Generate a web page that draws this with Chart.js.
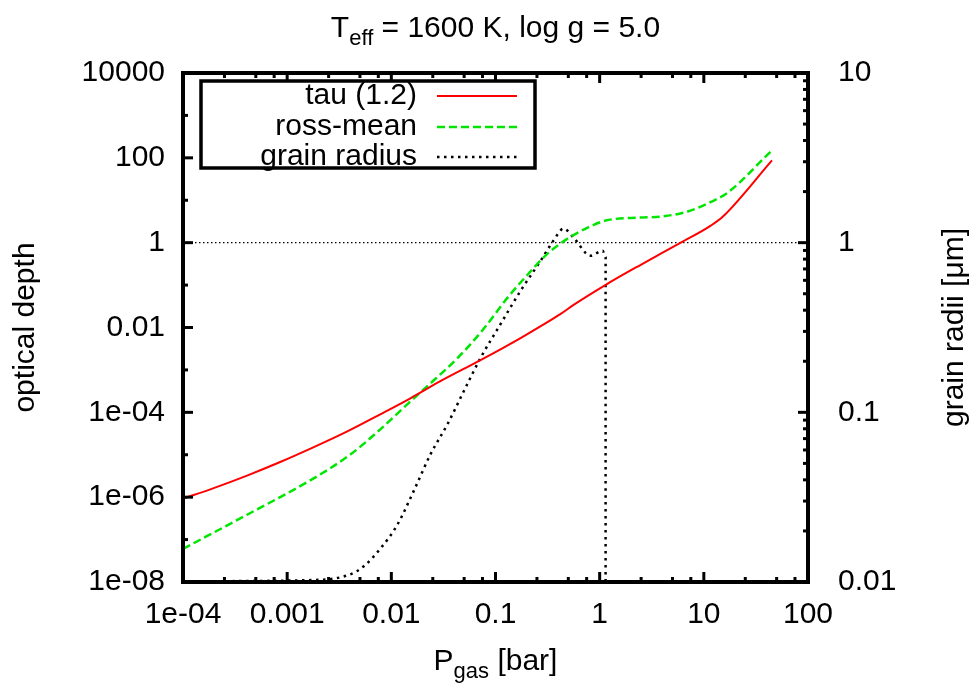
<!DOCTYPE html>
<html><head><meta charset="utf-8">
<script src="https://cdn.jsdelivr.net/npm/chart.js@4.4.1/dist/chart.umd.min.js"></script>
<style>html,body{margin:0;padding:0;background:#fff;}canvas{display:block;}</style>
</head><body>
<canvas id="c" width="971" height="684"></canvas>
<script>
// ---- data ----
const tauPressure = [1e-4, 2.03e-4, 4.12e-4, 8.57e-4, 1.78e-3, 3.78e-3, 7.83e-3, 0.01524, 0.0296, 0.0718, 0.174, 0.422, 0.562, 1.143, 2.48, 6.01, 11.67, 15.24, 45.1];
const tauValues   = [9.2e-7, 1.68e-6, 3.23e-6, 6.73e-6, 1.49e-5, 3.55e-5, 8.97e-5, 2.14e-4, 5.42e-4, 1.70e-3, 5.64e-3, 0.0209, 0.0341, 0.1014, 0.301, 1.0, 2.52, 4.12, 87.3];

const rossPressure = [1e-4, 4.12e-4, 1.78e-3, 4.04e-3, 7.83e-3, 0.01456, 0.0227, 0.0432, 0.0767, 0.130, 0.203, 0.316, 0.492, 0.767, 1.143, 2.48, 3.86, 7.01, 12.5, 17.0, 45.1];
const rossValues   = [6.04e-8, 3.85e-7, 2.74e-6, 1.01e-5, 3.96e-5, 1.63e-4, 4.36e-4, 1.90e-3, 9.2e-3, 0.0499, 0.175, 0.55, 1.245, 2.26, 3.32, 3.91, 4.12, 5.42, 9.86, 15.2, 150.7];

const grainPressure = [1e-4, 2.07e-3, 4.04e-3, 5.37e-3, 7.83e-3, 0.0114, 0.0163, 0.0237, 0.0345, 0.0537, 0.0718, 0.112, 0.174, 0.271, 0.361, 0.451, 0.562, 0.818, 1.07, 1.14, 1.14];
const grainRadius   = [0.0101, 0.0103, 0.0111, 0.0123, 0.0157, 0.0217, 0.0341, 0.0564, 0.0849, 0.147, 0.209, 0.332, 0.520, 0.782, 1.03, 1.21, 1.07, 0.838, 0.897, 0.815, 0.0101];

const refLinePressure = [1e-4, 100];
const refLineValue    = [1, 1];

const seriesLabels = ['tau (1.2)', 'ross-mean', 'grain radius'];

const xTickValues  = [1e-4, 1e-3, 1e-2, 1e-1, 1, 10, 100];
const xTickLabels  = ['1e-04', '0.001', '0.01', '0.1', '1', '10', '100'];
const yTickValues  = [1e-8, 1e-6, 1e-4, 1e-2, 1, 100, 10000];
const yTickLabels  = ['1e-08', '1e-06', '1e-04', '0.01', '1', '100', '10000'];
const y2TickValues = [0.01, 0.1, 1, 10];
const y2TickLabels = ['0.01', '0.1', '1', '10'];

// ---- styling ----
const FONT = '"Liberation Sans", Arial, Helvetica, sans-serif';
const FS = 30;
const SUBFS = 22;
const RED = '#ff0000', GREEN = '#00e600', BLACK = '#000000';

function pts(xs, ys) { return xs.map((x, i) => ({ x: x, y: ys[i] })); }

const decor = {
  id: 'decor',
  afterDraw(chart) {
    const ctx = chart.ctx;
    const { left, right, top, bottom } = chart.chartArea;
    const xs = chart.scales.x, ys = chart.scales.y, y2 = chart.scales.y2;
    ctx.save();
    ctx.strokeStyle = BLACK;
    ctx.lineWidth = 3;
    const MAJ = 10, MIN = 5;
    const vt = (px, len) => {
      ctx.beginPath();
      ctx.moveTo(px, bottom); ctx.lineTo(px, bottom - len);
      ctx.moveTo(px, top); ctx.lineTo(px, top + len);
      ctx.stroke();
    };
    xTickValues.forEach(v => vt(xs.getPixelForValue(v), MAJ));
    for (let d = -4; d < 2; d++) {
      [2.5, 5, 7.5].forEach(m => vt(xs.getPixelForValue(m * Math.pow(10, d)), MIN));
    }
    yTickValues.forEach(v => {
      const py = ys.getPixelForValue(v);
      ctx.beginPath(); ctx.moveTo(left, py); ctx.lineTo(left + MAJ, py); ctx.stroke();
    });
    for (let d = -7; d <= 3; d += 2) {
      const py = ys.getPixelForValue(Math.pow(10, d));
      ctx.beginPath(); ctx.moveTo(left, py); ctx.lineTo(left + MIN, py); ctx.stroke();
    }
    y2TickValues.forEach(v => {
      const py = y2.getPixelForValue(v);
      ctx.beginPath(); ctx.moveTo(right, py); ctx.lineTo(right - MAJ, py); ctx.stroke();
    });
    for (let d = -2; d < 1; d++) {
      for (let m = 2; m <= 9; m++) {
        const py = y2.getPixelForValue(m * Math.pow(10, d));
        ctx.beginPath(); ctx.moveTo(right, py); ctx.lineTo(right - MIN, py); ctx.stroke();
      }
    }
    // frame
    ctx.lineWidth = 4;
    ctx.strokeRect(left, top, right - left, bottom - top);

    // legend
    const lx = 201, ly = 81, lw = 334, lh = 87;
    ctx.fillStyle = '#fff';
    ctx.fillRect(lx, ly, lw, lh);
    ctx.lineWidth = 3.5;
    ctx.strokeRect(lx, ly, lw, lh);
    ctx.font = FS + 'px ' + FONT;
    ctx.textAlign = 'right';
    ctx.textBaseline = 'middle';
    ctx.fillStyle = BLACK;
    const rows = [96, 127, 157];
    const ds = chart.data.datasets;
    for (let i = 0; i < 3; i++) {
      ctx.fillText(seriesLabels[i], 417, rows[i]);
      ctx.save();
      ctx.strokeStyle = ds[i].borderColor;
      ctx.lineWidth = ds[i].borderWidth;
      ctx.setLineDash(ds[i].borderDash || []);
      ctx.beginPath(); ctx.moveTo(437, rows[i]); ctx.lineTo(517, rows[i]); ctx.stroke();
      ctx.restore();
    }

    // titles with subscripts
    const drawSub = (parts, cx, baseY) => {
      let total = 0;
      parts.forEach(p => { ctx.font = (p.sub ? SUBFS : FS) + 'px ' + FONT; total += ctx.measureText(p.t).width; });
      let x = cx - total / 2;
      ctx.textAlign = 'left';
      ctx.textBaseline = 'alphabetic';
      parts.forEach(p => {
        ctx.font = (p.sub ? SUBFS : FS) + 'px ' + FONT;
        ctx.fillText(p.t, x, baseY + (p.sub ? 8 : 0));
        x += ctx.measureText(p.t).width;
      });
    };
    const cx = (left + right) / 2;
    drawSub([{ t: 'T' }, { t: 'eff', sub: true }, { t: ' = 1600 K, log g = 5.0' }], cx, 37);
    drawSub([{ t: 'P' }, { t: 'gas', sub: true }, { t: ' [bar]' }], cx, 670);

    // y axis titles
    ctx.font = FS + 'px ' + FONT;
    ctx.textAlign = 'center';
    ctx.textBaseline = 'middle';
    ctx.save(); ctx.translate(26, (top + bottom) / 2); ctx.rotate(-Math.PI / 2);
    ctx.fillText('optical depth', 0, 0); ctx.restore();
    ctx.save(); ctx.translate(955, (top + bottom) / 2); ctx.rotate(-Math.PI / 2);
    ctx.fillText('grain radii [\u03bcm]', 0, 0); ctx.restore();
    ctx.restore();
  }
};

new Chart(document.getElementById('c'), {
  type: 'line',
  data: {
    datasets: [
      { label: seriesLabels[0], data: pts(tauPressure, tauValues), yAxisID: 'y',
        borderColor: RED, borderWidth: 2, pointRadius: 0, fill: false, cubicInterpolationMode: 'monotone' },
      { label: seriesLabels[1], data: pts(rossPressure, rossValues), yAxisID: 'y',
        borderColor: GREEN, borderWidth: 2.5, borderDash: [8, 4], pointRadius: 0, fill: false, cubicInterpolationMode: 'monotone' },
      { label: seriesLabels[2], data: pts(grainPressure, grainRadius), yAxisID: 'y2',
        borderColor: BLACK, borderWidth: 2.5, borderDash: [2.5, 4.5], pointRadius: 0, fill: false, cubicInterpolationMode: 'monotone' },
      { label: 'ref', data: pts(refLinePressure, refLineValue), yAxisID: 'y',
        borderColor: BLACK, borderWidth: 1.2, borderDash: [1.5, 2.5], pointRadius: 0, fill: false, tension: 0 }
    ]
  },
  options: {
    responsive: false,
    devicePixelRatio: 1,
    animation: false,
    layout: { padding: { top: 73, left: 0, right: 0, bottom: 0 } },
    plugins: { legend: { display: false }, title: { display: false }, tooltip: { enabled: false } },
    scales: {
      x: {
        type: 'logarithmic', position: 'bottom', min: 1e-4, max: 100,
        afterBuildTicks: s => { s.ticks = xTickValues.map(v => ({ value: v })); },
        afterFit: s => { s.height = 102; },
        grid: { display: false, drawTicks: false }, border: { display: false },
        ticks: { autoSkip: false, maxRotation: 0, minRotation: 0, padding: 15, color: BLACK,
                 font: { family: FONT, size: FS }, callback: (v, i) => xTickLabels[i] }
      },
      y: {
        type: 'logarithmic', position: 'left', min: 1e-8, max: 1e4,
        afterBuildTicks: s => { s.ticks = yTickValues.map(v => ({ value: v })); },
        afterFit: s => { s.width = 183; },
        grid: { display: false, drawTicks: false }, border: { display: false },
        ticks: { autoSkip: false, padding: 18, color: BLACK,
                 font: { family: FONT, size: FS }, callback: (v, i) => yTickLabels[i] }
      },
      y2: {
        type: 'logarithmic', position: 'right', min: 0.01, max: 10,
        afterBuildTicks: s => { s.ticks = y2TickValues.map(v => ({ value: v })); },
        afterFit: s => { s.width = 163; },
        grid: { display: false, drawTicks: false }, border: { display: false },
        ticks: { autoSkip: false, padding: 30, color: BLACK,
                 font: { family: FONT, size: FS }, callback: (v, i) => y2TickLabels[i] }
      }
    }
  },
  plugins: [decor]
});
</script>
</body></html>
